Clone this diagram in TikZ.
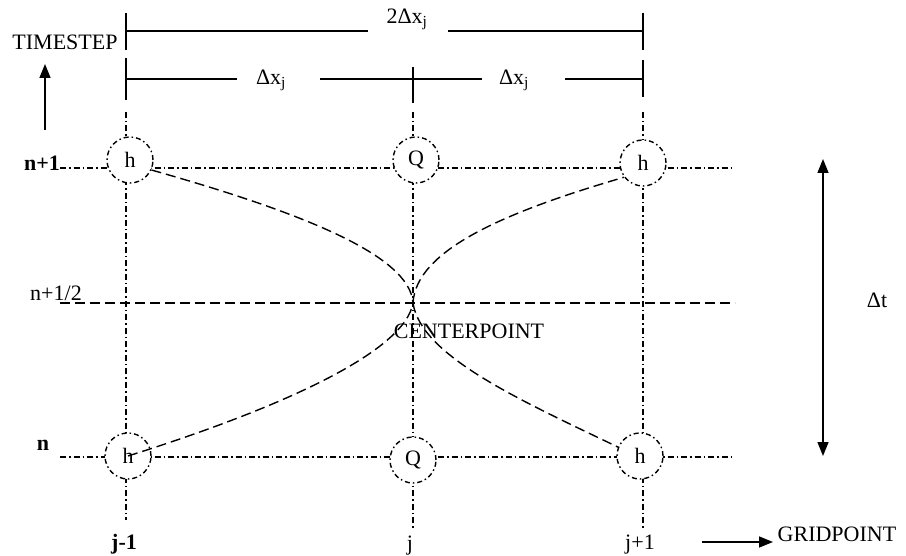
\documentclass[tikz,border=0pt]{standalone}
\usepackage{fontspec}
\setmainfont{Liberation Serif}
\usetikzlibrary{arrows.meta}
\begin{document}
\begin{tikzpicture}[x=1pt,y=-1pt,
  lbl/.style={inner sep=0pt,font=\fontsize{22}{26}\selectfont},
  grid/.style={line width=1.4pt,dash pattern=on 6pt off 3pt on 1.5pt off 3pt},
  halfline/.style={line width=1.4pt,dash pattern=on 10pt off 5pt},
  curveline/.style={line width=1.4pt,dash pattern=on 10pt off 5pt},
  pt/.style={circle,draw,line width=1.4pt,dash pattern=on 5pt off 3pt on 1.5pt off 3pt,minimum size=46pt,inner sep=0pt,font=\fontsize{22}{26}\selectfont},
  dim/.style={line width=1.5pt},
  arr/.style={line width=1.5pt,-{Triangle[length=14pt,width=11pt]}}]
\useasboundingbox (0,0) rectangle (906,556);
% grid lines
\draw[grid] (126,112) -- (126,520);
\draw[grid] (413,112) -- (413,530);
\draw[grid] (643,112) -- (643,530);
\draw[grid] (60,168) -- (735,168);
\draw[grid] (60,457) -- (735,457);
\draw[halfline] (60,303) -- (735,303);
% points
\node[pt,fill=white] (hTL) at (130,160) {h};
\node[pt,fill=white] (qT) at (416,160) {Q};
\node[pt,fill=white] (hTR) at (643,163) {h};
\node[pt,fill=white] (hBL) at (128,456) {h};
\node[pt,fill=white] (qB) at (413,460) {Q};
\node[pt,fill=white] (hBR) at (640,456) {h};
\coordinate (cp) at (413,303);
% curves
\draw[curveline] (hTL.-25) .. controls (300,212) and (410,255) .. (cp);
\draw[curveline] (cp) .. controls (421,356) and (520,400) .. (hBR.158);
\draw[curveline] (hBL.center) .. controls (290,405) and (405,350) .. (cp);
\draw[curveline] (cp) .. controls (416,250) and (505,212) .. (hTR.-143);
% dimension lines
\coordinate (d2a) at (126,31);
\coordinate (d2b) at (643,31);
\node[lbl] (d2) at (407,19) {2Δx\textsubscript{j}};
\draw[dim] (126,13) -- (126,50);
\draw[dim] (643,13) -- (643,50);
\draw[dim] (d2a) -- (368,31);
\draw[dim] (448,31) -- (d2b);
\draw[dim] (126,58) -- (126,100);
\draw[dim] (413,67) -- (413,103);
\draw[dim] (643,60) -- (643,97);
\node[lbl] (d1a) at (271,80) {Δx\textsubscript{j}};
\node[lbl] (d1b) at (514,80) {Δx\textsubscript{j}};
\draw[dim] (126,79) -- (237,79);
\draw[dim] (320,79) -- (482,79);
\draw[dim] (565,79) -- (643,79);
% axis labels
\node[lbl] (ts) at (65,42) {TIMESTEP};
\coordinate (tsb) at (45,130);
\coordinate (tst) at (45,64);
\draw[arr] (tsb) -- (tst);
\node[lbl,font=\fontsize{22}{26}\selectfont\bfseries] (n1) at (42,163) {n+1};
\node[lbl] (nh) at (56,293) {n+1/2};
\node[lbl,font=\fontsize{22}{26}\selectfont\bfseries] (n0) at (43,445) {n};
\node[lbl,font=\fontsize{22}{26}\selectfont\bfseries] (jm) at (124,544) {j-1};
\node[lbl] (j0) at (410,546) {j};
\node[lbl] (jp) at (640,545) {j+1};
\node[lbl] (gp) at (837,534) {GRIDPOINT};
\coordinate (ga) at (702,542);
\coordinate (gb) at (773,542);
\draw[arr] (ga) -- (gb);
\node[lbl] (cpl) at (469,331) {CENTERPOINT};
\coordinate (dta) at (823,159);
\coordinate (dtb) at (823,456);
\draw[line width=1.5pt,{Triangle[length=14pt,width=11pt]}-{Triangle[length=14pt,width=11pt]}] (dta) -- (dtb);
\node[lbl] (dt) at (877,300) {Δt};
\end{tikzpicture}
\end{document}
